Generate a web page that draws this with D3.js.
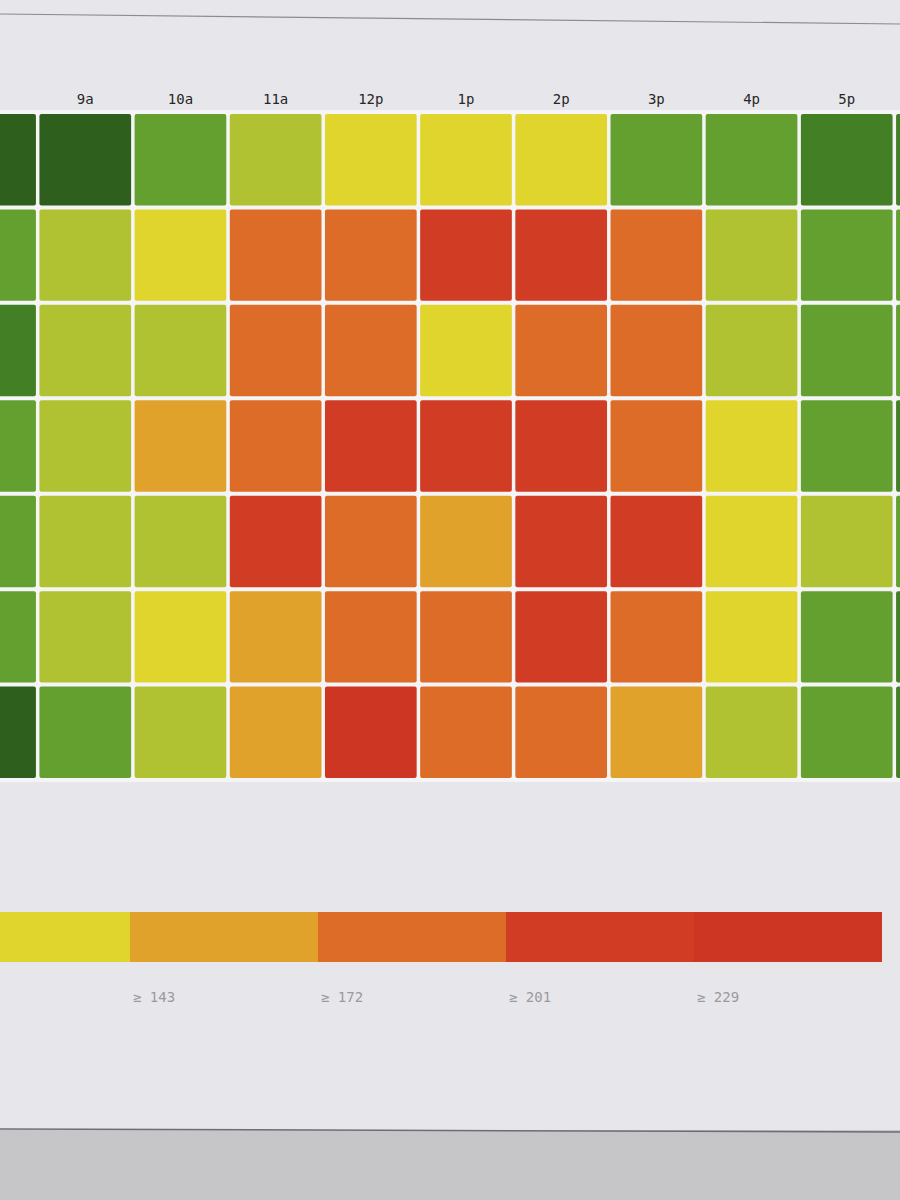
<!DOCTYPE html>
<html>
<head>
<meta charset="utf-8">
<script src="https://cdn.jsdelivr.net/npm/d3@7"></script>
<style>
  html, body { margin: 0; padding: 0; background: #e7e7eb; }
  svg { display: block; }
</style>
</head>
<body>
<svg id="chart" width="900" height="1200"></svg>
<script>
// ---- data ----
const hours = ["8a", "9a", "10a", "11a", "12p", "1p", "2p", "3p", "4p", "5p", "6p"];
const days = ["Sun", "Mon", "Tue", "Wed", "Thu", "Fri", "Sat"];
const sun = [18, 22, 70, 98, 125, 130, 128, 72, 78, 45, 40];
const mon = [66, 100, 120, 185, 180, 215, 212, 182, 96, 68, 64];
const tue = [48, 104, 95, 178, 184, 132, 186, 180, 102, 70, 62];
const wed = [72, 102, 155, 182, 224, 210, 216, 186, 124, 66, 50];
const thu = [68, 98, 100, 218, 188, 158, 214, 220, 126, 96, 60];
const fri = [70, 104, 122, 160, 190, 180, 212, 184, 128, 72, 52];
const sat = [20, 74, 102, 156, 236, 182, 176, 150, 100, 70, 48];
const seriesValues = [sun, mon, tue, wed, thu, fri, sat];
const thresholds = [29, 57, 86, 114, 143, 172, 201, 229];
const legendLabels = ["≥ 0", "≥ 29", "≥ 57", "≥ 86", "≥ 114", "≥ 143", "≥ 172", "≥ 201", "≥ 229"];
const palette = ["#2f5f1c", "#437f25", "#64a030", "#b0c232", "#e0d52c", "#e1a22c", "#dc6c28", "#d03c24", "#cd3622"];

// ---- drawing ----
const W = 900;
const svg = d3.select("#chart");

// photo-like screen edges
svg.append("line").attr("x1", 0).attr("x2", W).attr("y1", 14).attr("y2", 24)
  .attr("stroke", "#8c8c90").attr("stroke-width", 1.2);
svg.append("rect").attr("x", 0).attr("y", 1130).attr("width", W).attr("height", 70)
  .attr("fill", "#c6c6c9");
svg.append("line").attr("x1", 0).attr("x2", W).attr("y1", 1129).attr("y2", 1132)
  .attr("stroke", "#6e6e72").attr("stroke-width", 1.5);

const color = d3.scaleThreshold().domain(thresholds).range(palette);

const colStep = 95.5, rowStep = 96;
const x = d3.scaleBand().domain(hours)
  .range([38 - 1.75 - colStep, 38 - 1.75 - colStep + hours.length * colStep])
  .padding(3.5 / colStep);
const y = d3.scaleBand().domain(days)
  .range([110, 110 + days.length * rowStep])
  .padding(4 / rowStep);

// white grid backing
svg.append("rect")
  .attr("x", 0).attr("y", y.range()[0])
  .attr("width", W).attr("height", y.range()[1] - y.range()[0])
  .attr("fill", "#f5f5f7");

const cells = [];
days.forEach((d, i) => hours.forEach((h, j) => cells.push({ day: d, hour: h, value: seriesValues[i][j] })));

svg.append("g").selectAll("rect").data(cells).join("rect")
  .attr("x", d => x(d.hour))
  .attr("y", d => y(d.day))
  .attr("width", x.bandwidth())
  .attr("height", y.bandwidth())
  .attr("rx", 2)
  .attr("fill", d => color(d.value));

// column labels (only those fully in view)
const visibleHours = hours.filter(h => x(h) >= 0 && x(h) + x.bandwidth() <= W + 10);
const xAxis = d3.axisTop(x).tickValues(visibleHours).tickSize(0).tickPadding(0);
const gx = svg.append("g").attr("transform", "translate(0,104)").call(xAxis);
gx.select(".domain").remove();
gx.selectAll("text")
  .attr("font-family", "DejaVu Sans Mono, monospace")
  .attr("font-size", 14)
  .attr("fill", "#262626");

// legend
const legendW = 188;
const lx = d3.scaleBand().domain(legendLabels)
  .range([882 - legendLabels.length * legendW, 882]);
const lg = svg.append("g");
lg.selectAll("rect").data(legendLabels).join("rect")
  .attr("x", d => lx(d))
  .attr("y", 912)
  .attr("width", lx.bandwidth())
  .attr("height", 50)
  .attr("fill", (d, i) => palette[i]);
lg.selectAll("text").data(legendLabels.filter(d => lx(d) >= 0)).join("text")
  .attr("x", d => lx(d) + 3)
  .attr("y", 1002)
  .attr("font-family", "DejaVu Sans Mono, monospace")
  .attr("font-size", 14)
  .attr("fill", "#9a9a9e")
  .text(d => d);
</script>
</body>
</html>
